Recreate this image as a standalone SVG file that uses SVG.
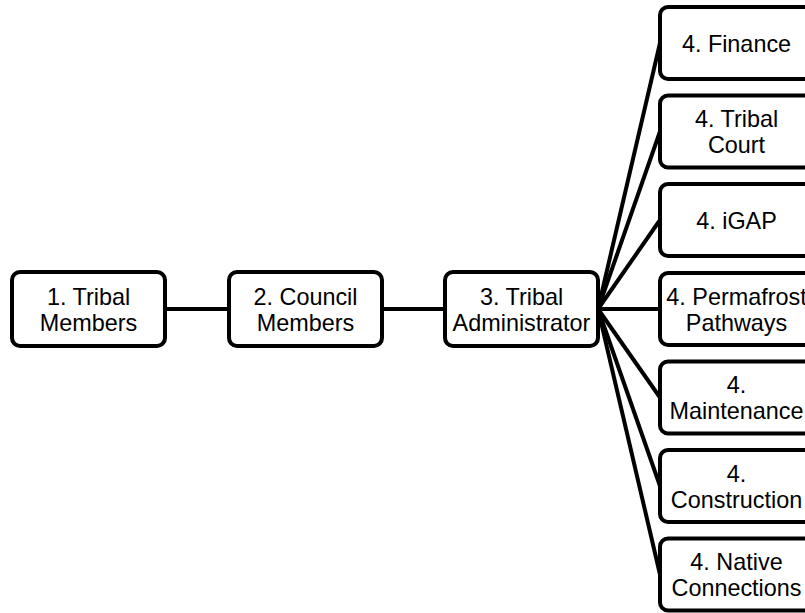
<svg xmlns="http://www.w3.org/2000/svg" width="805" height="613" viewBox="0 0 805 613">
<style>
.box{fill:#fff;stroke:#000;stroke-width:4}
.lbl{font-family:"Liberation Sans",Arial,sans-serif;font-size:23.4px;fill:#000;text-anchor:middle}
.edge{stroke:#000;stroke-width:4;fill:none}
</style>
<rect width="805" height="613" fill="#fff"/>
<g id="connectors">
<line class="edge" x1="165" y1="309" x2="229" y2="309"/>
<line class="edge" x1="382" y1="309" x2="445" y2="309"/>
<line class="edge" x1="598" y1="309" x2="660" y2="43"/>
<line class="edge" x1="598" y1="309" x2="660" y2="131.5"/>
<line class="edge" x1="598" y1="309" x2="660" y2="220"/>
<line class="edge" x1="598" y1="309" x2="660" y2="309"/>
<line class="edge" x1="598" y1="309" x2="660" y2="397.5"/>
<line class="edge" x1="598" y1="309" x2="660" y2="486"/>
<line class="edge" x1="598" y1="309" x2="660" y2="574.5"/>
</g>
<g id="n1"><rect class="box" x="12" y="272" width="153" height="74" rx="8"/><text class="lbl" x="88.5" y="304.5">1. Tribal</text><text class="lbl" x="88.5" y="330.5">Members</text></g>
<g id="n2"><rect class="box" x="229" y="272" width="153" height="74" rx="8"/><text class="lbl" x="305.5" y="304.5">2. Council</text><text class="lbl" x="305.5" y="330.5">Members</text></g>
<g id="n3"><rect class="box" x="445" y="272" width="153" height="74" rx="8"/><text class="lbl" x="521.5" y="304.5">3. Tribal</text><text class="lbl" x="521.5" y="330.5">Administrator</text></g>
<g id="n4a"><rect class="box" x="660" y="7" width="153" height="72" rx="8"/><text class="lbl" x="736.5" y="51.5">4. Finance</text></g>
<g id="n4b"><rect class="box" x="660" y="95.5" width="153" height="72" rx="8"/><text class="lbl" x="736.5" y="127">4. Tribal</text><text class="lbl" x="736.5" y="153">Court</text></g>
<g id="n4c"><rect class="box" x="660" y="184" width="153" height="72" rx="8"/><text class="lbl" x="736.5" y="228.5">4. iGAP</text></g>
<g id="n4d"><rect class="box" x="660" y="273" width="153" height="72" rx="8"/><text class="lbl" x="736.5" y="304.5">4. Permafrost</text><text class="lbl" x="736.5" y="330.5">Pathways</text></g>
<g id="n4e"><rect class="box" x="660" y="361.5" width="153" height="72" rx="8"/><text class="lbl" x="736.5" y="393">4.</text><text class="lbl" x="736.5" y="419">Maintenance</text></g>
<g id="n4f"><rect class="box" x="660" y="450" width="153" height="72" rx="8"/><text class="lbl" x="736.5" y="481.5">4.</text><text class="lbl" x="736.5" y="507.5">Construction</text></g>
<g id="n4g"><rect class="box" x="660" y="538.5" width="153" height="72" rx="8"/><text class="lbl" x="736.5" y="570">4. Native</text><text class="lbl" x="736.5" y="596">Connections</text></g>
</svg>
